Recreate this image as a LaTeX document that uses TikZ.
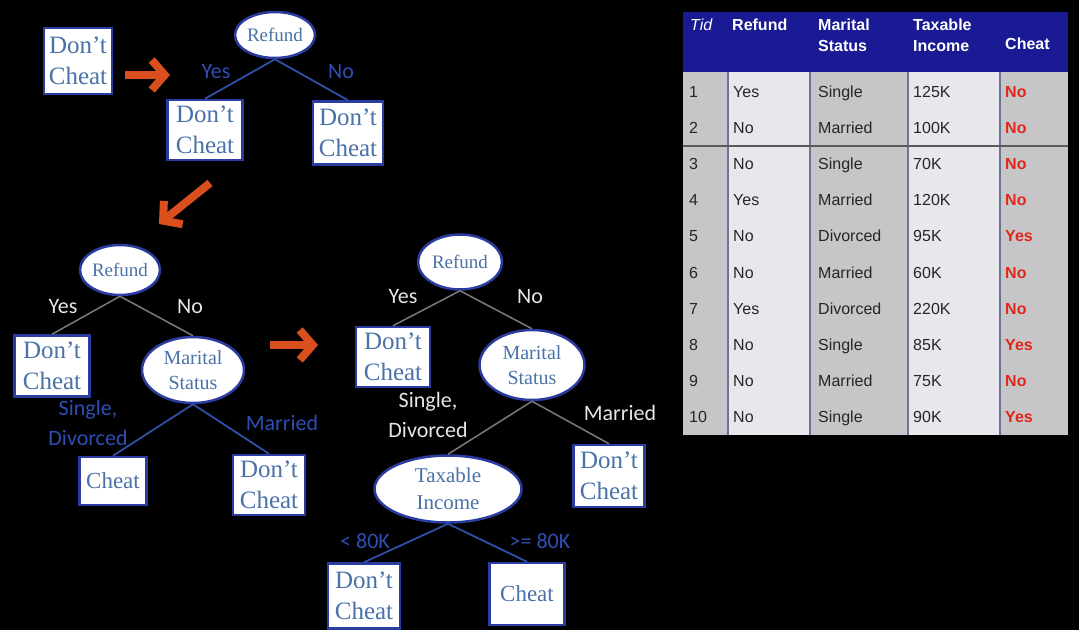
\documentclass[tikz,border=0pt]{standalone}
\usepackage{fontspec}
\setmainfont{Liberation Serif}
\newfontfamily\labelfont{Carlito}
\newfontfamily\tablefont{Liberation Sans}
\usetikzlibrary{arrows.meta,shapes.geometric}
\definecolor{leafblue}{HTML}{4A72A8}
\definecolor{boxline}{HTML}{2A3CA0}
\definecolor{labblue}{HTML}{2E4EB4}
\definecolor{labwhite}{HTML}{E6E6E6}
\definecolor{edgeblue}{HTML}{3050A8}
\definecolor{edgegray}{HTML}{7A7A7A}
\definecolor{arroworange}{HTML}{D9501E}
\definecolor{hdrblue}{HTML}{1A1A94}
\definecolor{cellgray}{HTML}{C6C6C8}
\definecolor{celllight}{HTML}{E8E8EC}
\definecolor{sepline}{HTML}{6A7498}
\definecolor{cheatred}{HTML}{E2261A}

\begin{document}
\begin{tikzpicture}[x=1pt,y=-1pt,
    leaf/.style={draw=boxline,line width=2.5pt,fill=white,text=leafblue,
      align=center,inner sep=2pt,font=\fontsize{25}{31}\selectfont},
    test/.style={ellipse,draw=boxline,line width=2.5pt,fill=white,
      text=leafblue,align=center,inner sep=0pt},
    bluelab/.style={text=labblue,align=center,font=\labelfont\fontsize{22}{30}\selectfont},
    whitelab/.style={text=labwhite,align=center,font=\labelfont\fontsize{22}{30}\selectfont},
    blueedge/.style={draw=edgeblue,line width=1.8pt},
    grayedge/.style={draw=edgegray,line width=1.5pt},
    go/.style={draw=arroworange,line width=8pt,
      -{Straight Barb[length=13pt,width=30pt]}},
    cell/.style={anchor=base west,inner sep=0pt,text=black!85,
      font=\tablefont\fontsize{16}{19}\selectfont},
    head/.style={anchor=west,inner sep=0pt,text=white,align=left,
      font=\tablefont\bfseries\fontsize{16}{21}\selectfont}]
  \fill[black](0,0)rectangle(1079,630);
  \useasboundingbox(0,0)rectangle(1079,630);

  % first tree
  \node[leaf,minimum width=68pt,minimum height=66pt](start)at(78,61){Don’t\\Cheat};
  \node[test,minimum width=80pt,minimum height=46pt,
    font=\fontsize{19}{22}\selectfont](refA)at(275,35){Refund};
  \node[leaf,minimum width=75pt,minimum height=60pt](yesA)at(205,130){Don’t\\Cheat};
  \node[leaf,minimum width=70pt,minimum height=63pt](noA)at(348,133){Don’t\\Cheat};
  \node[bluelab](yesAl)at(216,72){Yes};
  \node[bluelab](noAl)at(341,72){No};
  \draw[blueedge](refA.south)--(yesA.north);
  \draw[blueedge](refA.south)--(noA.north);

  % second tree
  \node[test,minimum width=80pt,minimum height=50pt,
    font=\fontsize{19}{22}\selectfont](refB)at(120,270){Refund};
  \node[leaf,minimum width=75pt,minimum height=61pt](yesB)at(52,366){Don’t\\Cheat};
  \node[test,minimum width=102pt,minimum height=66pt,
    font=\fontsize{20}{25}\selectfont](marB)at(193,370){Marital\\Status};
  \node[leaf,minimum width=67pt,minimum height=48pt,
    font=\fontsize{23}{28}\selectfont](chB)at(113,481){Cheat};
  \node[leaf,minimum width=72pt,minimum height=60pt](dcB)at(269,485){Don’t\\Cheat};
  \node[whitelab](yesBl)at(63,307){Yes};
  \node[whitelab](noBl)at(190,307){No};
  \node[bluelab](sdB)at(88,423){Single,\\Divorced};
  \node[bluelab](marBl)at(282,423){Married};
  \draw[grayedge](refB.south)--(yesB.north);
  \draw[grayedge](refB.south)--(marB.north);
  \draw[blueedge](marB.south)--(chB.north);
  \draw[blueedge](marB.south)--(dcB.north);

  % third tree
  \node[test,minimum width=84pt,minimum height=55pt,
    font=\fontsize{19}{22}\selectfont](refC)at(460,262){Refund};
  \node[leaf,minimum width=74pt,minimum height=60pt](yesC)at(393,357){Don’t\\Cheat};
  \node[test,minimum width=105pt,minimum height=70pt,
    font=\fontsize{20}{25}\selectfont](marC)at(532,365){Marital\\Status};
  \node[leaf,minimum width=71pt,minimum height=62pt](dcC)at(609,476){Don’t\\Cheat};
  \node[test,minimum width=147pt,minimum height=67pt,
    font=\fontsize{21}{27}\selectfont](taxC)at(448,489){Taxable\\Income};
  \node[leaf,minimum width=72pt,minimum height=65pt](lowC)at(364,596){Don’t\\Cheat};
  \node[leaf,minimum width=75pt,minimum height=62pt,
    font=\fontsize{23}{28}\selectfont](highC)at(527,594){Cheat};
  \node[whitelab](yesCl)at(403,297){Yes};
  \node[whitelab](noCl)at(530,297){No};
  \node[whitelab](sdC)at(428,415){Single,\\Divorced};
  \node[whitelab](marCl)at(620,413){Married};
  \node[bluelab](lowCl)at(365,541){< 80K};
  \node[bluelab](highCl)at(540,541){>= 80K};
  \draw[grayedge](refC.south)--(yesC.north);
  \draw[grayedge](refC.south)--(marC.north);
  \draw[grayedge](marC.south)--(taxC.north);
  \draw[grayedge](marC.south)--(dcC.north);
  \draw[blueedge](taxC.south)--(lowC.north);
  \draw[blueedge](taxC.south)--(highC.north);

  % orange steps
  \coordinate(a1)at(125,75);\coordinate(b1)at(170,75);
  \coordinate(a2)at(210,183);\coordinate(b2)at(159,224);
  \coordinate(a3)at(270,345);\coordinate(b3)at(318,345);
  \draw[go](a1)--(b1);
  \draw[go](a2)--(b2);
  \draw[go](a3)--(b3);

  % table
  \fill[hdrblue](683,12)rectangle(1068,72);
  \fill[cellgray](683,72)rectangle(728,435);
  \fill[celllight](728,72)rectangle(810,435);
  \fill[cellgray](810,72)rectangle(908,435);
  \fill[celllight](908,72)rectangle(1000,435);
  \fill[cellgray](1000,72)rectangle(1068,435);
  \foreach \x in {728,810,908,1000}
    \draw[sepline,line width=1.2pt](\x,72)--(\x,435);
  \draw[black!65,line width=1.2pt](683,146)--(1068,146);
  \node[head,font=\tablefont\itshape\fontsize{16}{21}\selectfont](hTid)at(690,25){Tid};
  \node[head](hRef)at(732,25){Refund};
  \node[head](hMar)at(818,35){Marital\\Status};
  \node[head](hTax)at(913,35){Taxable\\Income};
  \node[head](hCh)at(1005,44){Cheat};
  \foreach \i/\r/\m/\t/\c in {1/Yes/Single/125K/No,2/No/Married/100K/No,
      3/No/Single/70K/No,4/Yes/Married/120K/No,5/No/Divorced/95K/Yes,
      6/No/Married/60K/No,7/Yes/Divorced/220K/No,8/No/Single/85K/Yes,
      9/No/Married/75K/No,10/No/Single/90K/Yes}{
    \node[cell](tid\i)at(689,{97+(\i-1)*36.2}){\i};
    \node[cell](ref\i)at(733,{97+(\i-1)*36.2}){\r};
    \node[cell](mar\i)at(818,{97+(\i-1)*36.2}){\m};
    \node[cell](tax\i)at(913,{97+(\i-1)*36.2}){\t};
    \node[cell,text=cheatred,font=\tablefont\bfseries\fontsize{16}{19}\selectfont]
      (ch\i)at(1005,{97+(\i-1)*36.2}){\c};
  }
\end{tikzpicture}
\end{document}
